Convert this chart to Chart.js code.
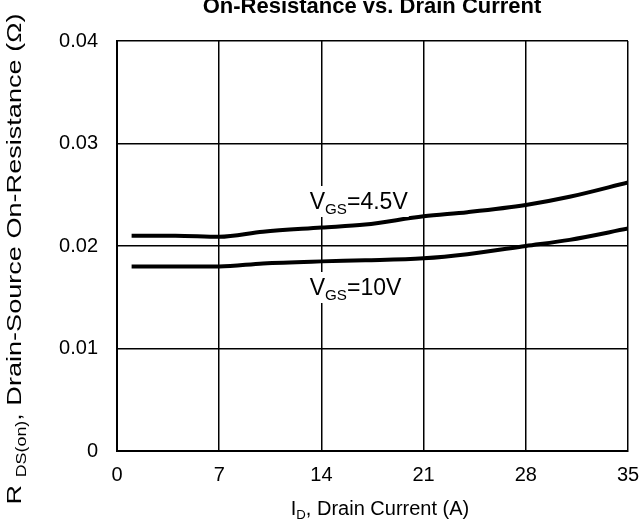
<!DOCTYPE html>
<html>
<head>
<meta charset="utf-8">
<script src="https://cdn.jsdelivr.net/npm/chart.js@4"></script>
<style>
  html, body { margin: 0; padding: 0; background: #fff; }
  #wrap { width: 641px; height: 531px; }
</style>
</head>
<body>
<div id="wrap"><canvas id="mainChart"></canvas></div>
<script>
// drain current (A)
const currentA = [1, 4, 7, 10, 14, 17, 21, 24, 28, 31, 35];
// R DS(on) in ohms
const rdsVgs45 = [0.0210, 0.0210, 0.0209, 0.0214, 0.0218, 0.0221, 0.0229, 0.0233, 0.0240, 0.0248, 0.0262];
const rdsVgs10 = [0.0180, 0.0180, 0.0180, 0.0183, 0.0185, 0.0186, 0.0188, 0.0192, 0.0200, 0.0206, 0.0217];
const xTicks = [0, 7, 14, 21, 28, 35];
const yTicks = [0, 0.01, 0.02, 0.03, 0.04];

const FONT = 'Liberation Sans, Arial, sans-serif';

function toPoints(ys) {
    return currentA.map((x, i) => ({ x: x, y: ys[i] }));
}

// text with a subscript part
function subText(ctx, x, y, parts, size) {
    parts.forEach(p => {
        const sz = p.sub ? size * 0.66 : size;
        ctx.font = sz + 'px ' + FONT;
        ctx.fillText(p.t, x, y + (p.sub ? size * 0.22 : 0));
        x += ctx.measureText(p.t).width;
    });
    return x;
}
function subWidth(ctx, parts, size) {
    let w = 0;
    parts.forEach(p => {
        ctx.font = (p.sub ? size * 0.66 : size) + 'px ' + FONT;
        w += ctx.measureText(p.t).width;
    });
    return w;
}

const labelsPlugin = {
    id: 'labels',
    afterDatasetsDraw(chart) {
        const ctx = chart.ctx;
        const xs = chart.scales.x, ys = chart.scales.y;
        ctx.save();
        ctx.fillStyle = '#000';
        ctx.textBaseline = 'alphabetic';
        ctx.textAlign = 'left';

        // curve labels
        const curveLabels = [
            { parts: [{ t: 'V' }, { t: 'GS', sub: true }, { t: '=4.5V' }], y: 0.02361 },
            { parts: [{ t: 'V' }, { t: 'GS', sub: true }, { t: '=10V' }], y: 0.01522 }
        ];
        curveLabels.forEach(l => {
            const w = subWidth(ctx, l.parts, 23);
            const x0 = xs.getPixelForValue(13.2);
            const yb = ys.getPixelForValue(l.y);
            ctx.fillStyle = '#fff';
            ctx.fillRect(x0 - 1, yb - 23, w + 2, 31);
            ctx.fillStyle = '#000';
            subText(ctx, x0, yb, l.parts, 23);
        });

        // title (clipped at the top)
        ctx.textAlign = 'center';
        ctx.font = 'bold 22px ' + FONT;
        ctx.fillText('On-Resistance vs. Drain Current', 372, 13);

        // x axis title
        ctx.textAlign = 'left';
        const xParts = [{ t: 'I' }, { t: 'D', sub: true }, { t: ', Drain Current (A)' }];
        const xw = subWidth(ctx, xParts, 20);
        subText(ctx, 380 - xw / 2, 515, xParts, 20);

        // y axis title, rotated and stretched along its length
        ctx.translate(21, 259);
        ctx.rotate(-Math.PI / 2);
        ctx.scale(1.29, 1);
        const yParts = [{ t: 'R ' }, { t: 'DS(on)', sub: true }, { t: ', Drain-Source On-Resistance (' }, { t: 'Ω' }, { t: ')' }];
        const yw = subWidth(ctx, yParts, 21);
        subText(ctx, -yw / 2, 0, yParts, 21);
        ctx.restore();
    }
};

const ctx = document.getElementById('mainChart').getContext('2d');
new Chart(ctx, {
    type: 'line',
    data: {
        datasets: [
            {
                label: 'VGS=4.5V',
                data: toPoints(rdsVgs45),
                borderColor: '#000',
                borderWidth: 4,
                pointRadius: 0,
                cubicInterpolationMode: 'monotone',
                fill: false
            },
            {
                label: 'VGS=10V',
                data: toPoints(rdsVgs10),
                borderColor: '#000',
                borderWidth: 4,
                pointRadius: 0,
                cubicInterpolationMode: 'monotone',
                fill: false
            }
        ]
    },
    options: {
        responsive: true,
        maintainAspectRatio: false,
        animation: false,
        layout: { padding: { left: 0, right: 13, top: 41, bottom: 0 } },
        plugins: {
            legend: { display: false },
            tooltip: { enabled: false }
        },
        scales: {
            x: {
                type: 'linear',
                min: 0,
                max: 35,
                afterFit: s => { s.height = 80; s.paddingLeft = 0; s.paddingRight = 0; },
                afterBuildTicks: s => { s.ticks = xTicks.map(v => ({ value: v })); },
                grid: { color: '#000', lineWidth: 1.5, drawTicks: false },
                border: { color: '#000', width: 2 },
                ticks: {
                    padding: 12,
                    color: '#000',
                    font: { family: FONT, size: 20 },
                    maxRotation: 0,
                    callback: v => String(v)
                }
            },
            y: {
                min: 0,
                max: 0.04,
                afterFit: s => { s.width = 117; s.paddingTop = 0; s.paddingBottom = 0; },
                afterBuildTicks: s => { s.ticks = yTicks.map(v => ({ value: v })); },
                grid: { color: '#000', lineWidth: 1.5, drawTicks: false },
                border: { color: '#000', width: 2 },
                ticks: {
                    padding: 19,
                    color: '#000',
                    font: { family: FONT, size: 20 },
                    callback: v => v === 0 ? '0' : v.toFixed(2)
                }
            }
        }
    },
    plugins: [labelsPlugin]
});
</script>
</body>
</html>
